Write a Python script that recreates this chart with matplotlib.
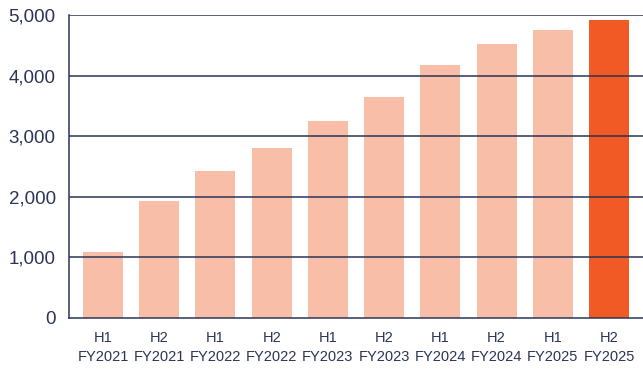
import matplotlib.pyplot as plt

# Half-year values
halves = ['H1', 'H2', 'H1', 'H2', 'H1', 'H2', 'H1', 'H2', 'H1', 'H2']
years = ['FY2021', 'FY2021', 'FY2022', 'FY2022', 'FY2023',
         'FY2023', 'FY2024', 'FY2024', 'FY2025', 'FY2025']
values = [1085, 1930, 2430, 2810, 3253, 3650, 4177, 4524, 4755, 4920]

navy = '#2b3456'
light = '#f8bea8'
highlight = '#f15a24'

fig = plt.figure(figsize=(6.43, 3.69), dpi=100)
ax = fig.add_axes([69 / 643, 1 - 318 / 369, 1 - 69 / 643, 303 / 369])

colors = [light] * (len(values) - 1) + [highlight]
x = range(len(values))
ax.bar(x, values, width=0.71, color=colors, zorder=1)

ax.set_xlim(-0.605, len(values) - 1 + 0.605)
ax.set_ylim(0, 5000)
ax.set_yticks(range(0, 5001, 1000))
ax.set_yticklabels([f'{v:,}' for v in range(0, 5001, 1000)],
                   fontsize=13.5, color=navy, family='Liberation Sans')
ax.set_xticks(list(x))
ax.set_xticklabels([f'{h}\n{y}' for h, y in zip(halves, years)],
                   fontsize=10.5, color=navy, family='Liberation Sans',
                   linespacing=1.4)
ax.tick_params(length=0)
ax.tick_params(axis='y', pad=9.5)
ax.tick_params(axis='x', pad=9.5)

for v in range(1000, 5001, 1000):
    ax.axhline(v, color=navy, lw=1.1, zorder=3)

for side in ['top', 'right']:
    ax.spines[side].set_visible(False)
for side in ['left', 'bottom']:
    ax.spines[side].set_color(navy)
    ax.spines[side].set_linewidth(1.1)
    ax.spines[side].set_zorder(4)

fig.savefig('out.png', dpi=100)
